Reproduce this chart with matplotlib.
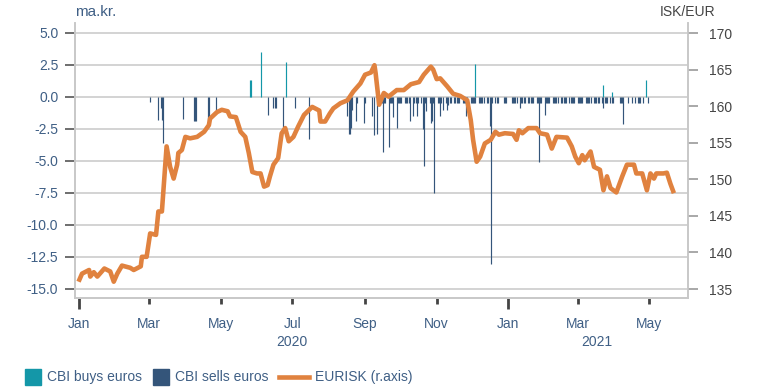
import matplotlib
matplotlib.use('Agg')
import matplotlib.pyplot as plt
import matplotlib.dates as mdates
import pandas as pd

plt.rcParams['font.family'] = ['Liberation Sans', 'DejaVu Sans']

# CBI FX market interventions, ISK bn (left axis)
buy_dates = ['2020-05-26', '2020-05-27', '2020-06-04', '2020-06-26',
             '2020-12-04', '2021-03-23', '2021-03-30', '2021-04-28']
buy_values = [1.3, 1.3, 3.5, 2.7, 2.55, 0.9, 0.4, 1.35]

sell_dates = ['2020-03-02', '2020-03-09', '2020-03-11', '2020-03-12', '2020-03-13',
              '2020-03-30', '2020-04-08', '2020-04-09', '2020-04-10', '2020-04-20',
              '2020-04-21', '2020-04-27', '2020-06-10', '2020-06-15', '2020-06-16',
              '2020-06-17', '2020-06-23', '2020-07-03', '2020-07-15', '2020-08-17',
              '2020-08-18', '2020-08-19', '2020-08-20', '2020-08-21', '2020-08-24',
              '2020-08-25', '2020-08-31', '2020-09-01', '2020-09-07', '2020-09-09',
              '2020-09-11', '2020-09-16', '2020-09-21', '2020-09-25', '2020-09-28',
              '2020-10-09', '2020-10-12', '2020-10-15', '2020-10-20', '2020-10-21',
              '2020-10-23', '2020-10-27', '2020-10-28', '2020-10-30', '2020-11-04',
              '2020-11-06', '2020-11-10', '2020-11-11', '2020-11-26', '2020-12-16',
              '2020-12-17', '2021-01-11', '2021-01-27', '2021-02-01', '2021-03-23',
              '2021-04-09', '2021-04-13', '2021-04-16', '2021-04-19', '2021-04-21',
              '2021-04-22', '2021-04-23', '2021-04-26', '2021-04-30']
sell_values = [-0.4, -1.8, -0.9, -1.8, -3.6,
               -1.75, -1.9, -1.9, -1.9, -1.9,
               -1.9, -1.0, -1.4, -0.9, -0.9,
               -0.9, -2.4, -0.9, -3.3, -1.5,
               -2.9, -2.9, -2.4, -1.0, -1.9,
               -0.5, -2.0, -0.5, -1.5, -3.0,
               -2.9, -4.3, -3.9, -1.6, -2.4,
               -1.9, -1.5, -1.5, -2.5, -5.4,
               -1.1, -2.0, -1.9, -7.5, -1.5,
               -1.0, -1.0, -0.6, -1.5, -2.3,
               -13.1, -0.9, -5.1, -1.4, -0.9,
               -2.1, -0.45, -0.45, -0.45, -0.45,
               -0.45, -0.45, -0.45, -0.45]

# regular daily sales programme
regular_start = '2020-09-14'
regular_end = '2021-04-08'
regular_amount = -0.45

# EURISK exchange rate (right axis)
fx_dates = ['2020-01-01', '2020-01-04', '2020-01-10', '2020-01-11', '2020-01-14',
            '2020-01-17', '2020-01-23', '2020-01-28', '2020-01-31', '2020-02-03',
            '2020-02-07', '2020-02-14', '2020-02-17', '2020-02-23', '2020-02-24',
            '2020-02-28', '2020-03-02', '2020-03-07', '2020-03-09', '2020-03-12',
            '2020-03-16', '2020-03-19', '2020-03-22', '2020-03-25', '2020-03-26',
            '2020-03-29', '2020-04-01', '2020-04-05', '2020-04-11', '2020-04-17',
            '2020-04-21', '2020-04-22', '2020-04-28', '2020-05-02', '2020-05-07',
            '2020-05-09', '2020-05-14', '2020-05-18', '2020-05-22', '2020-05-25',
            '2020-05-28', '2020-06-01', '2020-06-04', '2020-06-07', '2020-06-10',
            '2020-06-12', '2020-06-15', '2020-06-19', '2020-06-22', '2020-06-25',
            '2020-06-28', '2020-07-02', '2020-07-06', '2020-07-11', '2020-07-18',
            '2020-07-24', '2020-07-25', '2020-07-29', '2020-08-02', '2020-08-05',
            '2020-08-11', '2020-08-17', '2020-08-22', '2020-08-28', '2020-09-01',
            '2020-09-06', '2020-09-09', '2020-09-10', '2020-09-13', '2020-09-17',
            '2020-09-21', '2020-09-28', '2020-10-04', '2020-10-10', '2020-10-17',
            '2020-10-21', '2020-10-27', '2020-10-29', '2020-11-01', '2020-11-04',
            '2020-11-10', '2020-11-15', '2020-11-21', '2020-11-27', '2020-11-30',
            '2020-12-02', '2020-12-05', '2020-12-08', '2020-12-12', '2020-12-17',
            '2020-12-21', '2020-12-24', '2020-12-29', '2021-01-05', '2021-01-08',
            '2021-01-10', '2021-01-13', '2021-01-18', '2021-01-25', '2021-01-28',
            '2021-02-03', '2021-02-07', '2021-02-11', '2021-02-20', '2021-02-24',
            '2021-02-27', '2021-03-02', '2021-03-05', '2021-03-07', '2021-03-12',
            '2021-03-15', '2021-03-20', '2021-03-23', '2021-03-26', '2021-03-29',
            '2021-04-03', '2021-04-08', '2021-04-12', '2021-04-18', '2021-04-20',
            '2021-04-25', '2021-04-29', '2021-05-02', '2021-05-05', '2021-05-07',
            '2021-05-13', '2021-05-16', '2021-05-19', '2021-05-22']
fx_values = [136.0, 137.1, 137.6, 136.7, 137.3,
             136.7, 137.8, 137.4, 136.0, 137.1,
             138.2, 137.9, 137.6, 138.1, 139.4,
             139.4, 142.6, 142.4, 145.6, 145.6,
             154.5, 151.7, 150.1, 152.0, 153.6,
             154.0, 155.8, 155.6, 155.8, 156.5,
             157.4, 158.3, 159.2, 159.5, 159.3,
             158.6, 158.5, 156.5, 155.8, 153.6,
             151.0, 150.8, 150.8, 149.0, 149.2,
             150.4, 152.0, 152.9, 156.3, 157.0,
             155.2, 155.8, 157.2, 158.8, 159.9,
             159.4, 157.9, 157.9, 159.0, 159.7,
             160.4, 160.8, 162.0, 163.1, 164.3,
             164.6, 165.6, 164.5, 160.2, 161.8,
             161.3, 162.2, 162.2, 163.0, 163.3,
             164.3, 165.4, 165.0, 163.7, 163.8,
             162.7, 161.7, 161.4, 160.8, 158.1,
             155.4, 152.4, 153.1, 154.9, 155.4,
             156.5, 156.1, 156.3, 156.2, 155.4,
             156.7, 156.3, 157.0, 157.0, 156.3,
             156.1, 154.2, 155.8, 155.7, 154.5,
             153.1, 152.2, 153.3, 152.6, 153.8,
             151.7, 151.3, 148.5, 150.4, 148.8,
             148.2, 150.4, 152.0, 152.0, 150.8,
             150.8, 148.5, 150.8, 150.1, 150.8,
             150.8, 150.9, 149.4, 148.1]

buy_color = '#1497a8'
sell_color = '#34557a'
line_color = '#e0823f'
label_color = '#3f5f85'
grid_color = '#cccccc'

regular = pd.bdate_range(regular_start, regular_end)
holidays = pd.to_datetime(['2020-12-24', '2020-12-25', '2020-12-31', '2021-01-01',
                           '2021-04-01', '2021-04-02', '2021-04-05'])
regular = regular[~regular.isin(holidays)]
sells = pd.Series(regular_amount, index=regular)
extra = pd.Series(sell_values, index=pd.to_datetime(sell_dates))
sells = pd.concat([sells[~sells.index.isin(extra.index)], extra]).sort_index()

fig = plt.figure(figsize=(7.64, 3.87), dpi=100)
ax = fig.add_axes([75 / 764, 1 - 298 / 387, 613 / 764, 275 / 387])
ax2 = ax.twinx()

# thin daily bars as vertical lines so each one stays visible
ax.vlines(pd.to_datetime(buy_dates), 0, buy_values, color=buy_color, lw=0.85, zorder=3)
ax.vlines(sells.index, 0, sells.values, color=sell_color, lw=0.85, zorder=3)
ax2.plot(pd.to_datetime(fx_dates), fx_values, color=line_color, lw=3.3,
         solid_joinstyle='round', solid_capstyle='butt', zorder=4)

ax.set_xlim(pd.Timestamp('2019-12-29'), pd.Timestamp('2021-06-03'))
ax.set_ylim(-15.72, 5.78)
ax2.set_ylim(133.77, 171.37)
ax.set_yticks([-15, -12.5, -10, -7.5, -5, -2.5, 0, 2.5, 5])
ax.set_yticklabels(['-15.0', '-12.5', '-10.0', '-7.5', '-5.0', '-2.5', '0.0', '2.5', '5.0'])
ax2.set_yticks([135, 140, 145, 150, 155, 160, 165, 170])
ax.yaxis.grid(True, color=grid_color, lw=1.2, zorder=0)
ax.set_axisbelow(True)

months = pd.to_datetime(['2020-01-01', '2020-03-01', '2020-05-01', '2020-07-01',
                         '2020-09-01', '2020-11-01', '2021-01-01', '2021-03-01',
                         '2021-05-01'])
ax.set_xticks(months)
ax.set_xticklabels([d.strftime('%b') for d in months])

for a in (ax, ax2):
    a.spines['top'].set_visible(False)
    for s in ('left', 'right', 'bottom'):
        a.spines[s].set_color('#c8c8c8')
        a.spines[s].set_linewidth(1.2)

ax.tick_params(axis='y', length=7, width=1.2, color='#555555', labelcolor=label_color,
               labelsize=10, pad=5)
ax2.tick_params(axis='y', length=7, width=1.2, color='#999999', labelcolor='#444444',
                labelsize=10, pad=8)
ax.tick_params(axis='x', length=4, width=2, color='#444444', labelcolor=label_color,
               labelsize=10, pad=10, direction='out')
for t, d in zip(ax.xaxis.get_major_ticks(), months):
    if d.month == 1:
        t.tick1line.set_markersize(8)

fig.text(75 / 764, 1 - 12 / 387, 'ma.kr.', color=label_color, fontsize=11,
         va='center', ha='left')
fig.text(715 / 764, 1 - 12 / 387, 'ISK/EUR', color='#444444', fontsize=10,
         va='center', ha='right')
fig.text(292 / 764, 1 - 342 / 387, '2020', color=label_color, fontsize=10,
         ha='center', va='center')
fig.text(597 / 764, 1 - 342 / 387, '2021', color=label_color, fontsize=10,
         ha='center', va='center')

# legend laid out by hand in pixel positions
W, H = 764, 387
leg_y = 377
fig.patches.append(plt.Rectangle((25 / W, 1 - (leg_y + 8) / H), 16 / W, 16 / H,
                                 color=buy_color, transform=fig.transFigure))
fig.text(47 / W, 1 - leg_y / H, 'CBI buys euros', color=label_color, fontsize=10,
         va='center', ha='left')
fig.patches.append(plt.Rectangle((153 / W, 1 - (leg_y + 8) / H), 16 / W, 16 / H,
                                 color=sell_color, transform=fig.transFigure))
fig.text(175 / W, 1 - leg_y / H, 'CBI sells euros', color=label_color, fontsize=10,
         va='center', ha='left')
fig.lines.append(plt.Line2D([279 / W, 309 / W], [1 - leg_y / H, 1 - leg_y / H],
                            color=line_color, lw=3.3, transform=fig.transFigure))
fig.text(315 / W, 1 - leg_y / H, 'EURISK (r.axis)', color=label_color, fontsize=10,
         va='center', ha='left')

fig.savefig('out.png', dpi=100)
